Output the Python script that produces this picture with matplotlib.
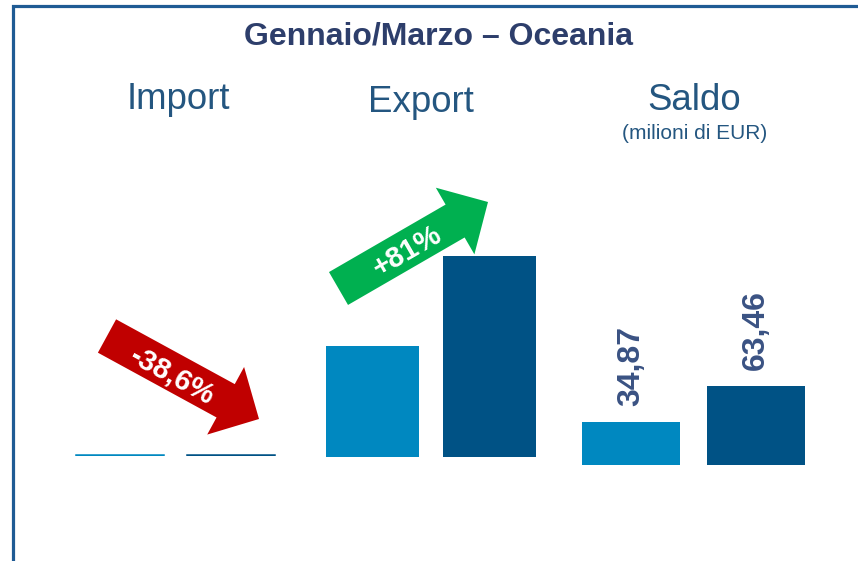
import matplotlib
matplotlib.use("Agg")
import matplotlib.pyplot as plt
from matplotlib.patches import FancyArrow

plt.rcParams['font.family'] = ['Liberation Sans', 'DejaVu Sans']

# ---- data ----
periods = ["Gen/Mar prev", "Gen/Mar curr"]
import_vals = [0.30, 0.18]
export_vals = [35.17, 63.64]
saldo_vals = [34.87, 63.46]
saldo_labels = ["34,87", "63,46"]
import_change = "-38,6%"
export_change = "+81%"
title = "Gennaio/Marzo \u2013 Oceania"
panel_titles = ["Import", "Export", "Saldo"]
unit_label = "(milioni di EUR)"

# ---- style ----
W, H = 858, 561
light_blue = "#0088C0"
dark_blue = "#005285"
bar_colors = [light_blue, dark_blue]
title_col = "#2D3E6B"
head_col = "#245680"
label_col = "#3A5283"
red = "#C00000"
green = "#00B050"
border_col = "#1F5B94"

fig = plt.figure(figsize=(W / 100, H / 100), dpi=100)
fig.patch.set_facecolor("white")


def px_axes(left, right, bottom, top):
    return fig.add_axes([left / W, 1 - bottom / H, (right - left) / W, (bottom - top) / H])


def style(ax):
    ax.set_xticks([])
    ax.set_yticks([])
    for s in ax.spines.values():
        s.set_visible(False)
    ax.patch.set_alpha(0)


x = [0, 1]

# Import panel
ax_i = px_axes(64.5, 286.5, 455.5, 150)
ax_i.bar(x, import_vals, width=0.793, color=bar_colors, edgecolor=bar_colors, linewidth=1.1)
ax_i.set_xlim(-0.5, 1.5)
ax_i.set_ylim(0, 305.5 / 3.16)
style(ax_i)

# Export panel
ax_e = px_axes(314, 548, 457, 150)
ax_e.bar(x, export_vals, width=0.795, color=bar_colors)
ax_e.set_xlim(-0.5, 1.5)
ax_e.set_ylim(0, 307 / 3.158)
style(ax_e)

# Saldo panel
ax_s = px_axes(568.5, 818.5, 465, 150)
ax_s.bar(x, saldo_vals, width=0.784, color=bar_colors)
ax_s.set_xlim(-0.5, 1.5)
scale_s = 1.24
ax_s.set_ylim(0, 315 / scale_s)
for xi, v, lab in zip(x, saldo_vals, saldo_labels):
    ax_s.annotate(lab, (xi, v), xytext=(0, 11.5), textcoords="offset points",
                  rotation=90, ha="center", va="bottom", fontsize=23,
                  fontweight="bold", color=label_col)
style(ax_s)

# Overlay in pixel coordinates
ov = fig.add_axes([0, 0, 1, 1])
ov.set_xlim(0, W)
ov.set_ylim(H, 0)
ov.axis("off")
ov.patch.set_alpha(0)

# frame border
ov.plot([12.5, 12.5, W + 2], [H + 2, 5.5, 5.5], color=border_col, lw=2.3,
        solid_joinstyle="miter")

# titles
ov.text(438, 36, title, ha="center", va="center", fontsize=23,
        fontweight="bold", color=title_col)
ov.text(178, 109, panel_titles[0], ha="center", va="baseline", fontsize=26.4, color=head_col)
ov.text(421, 112, panel_titles[1], ha="center", va="baseline", fontsize=26.4, color=head_col)
ov.text(694.5, 110, panel_titles[2], ha="center", va="baseline", fontsize=26.4, color=head_col)
ov.text(694.5, 133, unit_label, ha="center", va="center", fontsize=15, color=head_col)

# arrows
def arrow(x0, y0, x1, y1, color):
    a = FancyArrow(x0, y0, x1 - x0, y1 - y0, width=38, head_width=77,
                   head_length=38, length_includes_head=True,
                   color=color, linewidth=0)
    ov.add_patch(a)

arrow(107, 336, 259, 419, red)
arrow(338.5, 288.5, 488, 202, green)

ov.text(172.5, 376, import_change, ha="center", va="center", rotation=-28.6,
        rotation_mode="anchor", fontsize=21, fontweight="bold", color="white")
ov.text(407, 251, export_change, ha="center", va="center", rotation=30,
        rotation_mode="anchor", fontsize=21, fontweight="bold", color="white")

fig.savefig("out.png", dpi=100, facecolor="white")
